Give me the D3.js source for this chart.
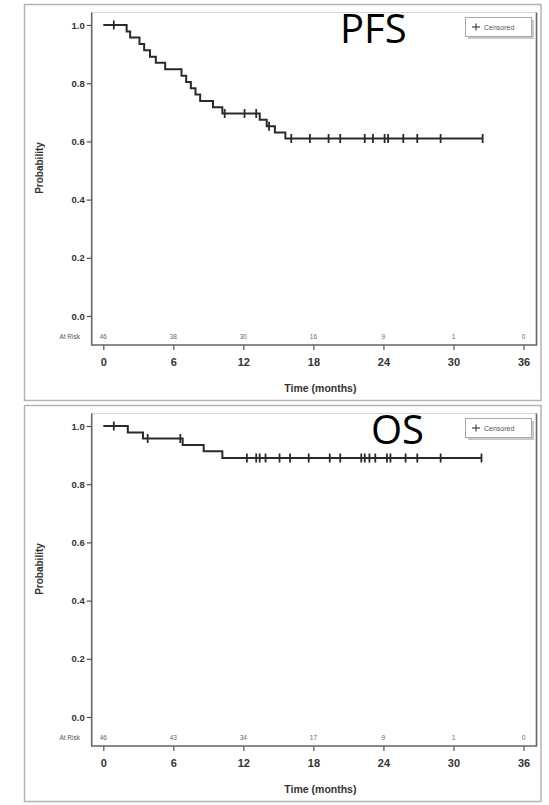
<!DOCTYPE html>
<html>
<head>
<meta charset="utf-8">
<script src="https://cdn.jsdelivr.net/npm/d3@7"></script>
<style>
  html, body { margin: 0; padding: 0; background: #ffffff; }
  svg { display: block; }
</style>
</head>
<body>
<svg id="chart" width="549" height="805"></svg>
<script>
// ---------------- DATA ----------------
const timeTicks = [0, 6, 12, 18, 24, 30, 36];
const probTicks = [0, 0.2, 0.4, 0.6, 0.8, 1.0];

// PFS Kaplan-Meier steps (time in months, survival probability after the step)
const pfsTimes = [0, 2.0, 2.3, 3.1, 3.5, 4.0, 4.5, 5.3, 6.7, 7.1, 7.5, 7.9, 8.3, 9.4, 10.2, 13.4, 14.0, 14.7, 15.6];
const pfsSurv  = [1.0, 0.978, 0.957, 0.935, 0.913, 0.891, 0.870, 0.848, 0.826, 0.804, 0.783, 0.761, 0.739, 0.717, 0.696, 0.674, 0.652, 0.631, 0.610];
const pfsEnd = 32.5;
const pfsCensored = [0.9, 10.4, 12.1, 13.1, 14.2, 16.1, 17.7, 19.3, 20.3, 22.4, 23.1, 24.1, 24.4, 25.7, 26.9, 28.9, 32.5];
const pfsAtRisk = ["46", "38", "30", "16", "9", "1", "0"];

// OS Kaplan-Meier steps
const osTimes = [0, 2.1, 3.4, 6.8, 8.6, 10.2];
const osSurv  = [1.0, 0.978, 0.957, 0.935, 0.913, 0.890];
const osEnd = 32.4;
const osCensored = [0.9, 3.8, 6.6, 12.3, 13.1, 13.4, 13.9, 15.1, 16.0, 17.6, 19.4, 20.3, 22.1, 22.4, 22.8, 23.3, 24.3, 24.6, 25.9, 26.9, 28.9, 32.4];
const osAtRisk = ["46", "43", "34", "17", "9", "1", "0"];

const panelTitles = ["PFS", "OS"];
const legendLabel = "Censored";
const xTitle = "Time (months)";
const yTitle = "Probability";
const atRiskLabel = "At Risk";

// ---------------- DRAW ----------------
const svg = d3.select("#chart");

const panels = [
  { title: panelTitles[0], times: pfsTimes, surv: pfsSurv, end: pfsEnd, cens: pfsCensored, risk: pfsAtRisk, dy: 0, titleX: 340 },
  { title: panelTitles[1], times: osTimes, surv: osSurv, end: osEnd, cens: osCensored, risk: osAtRisk, dy: 401, titleX: 371 }
];

const plotLeft = 91.7, plotRight = 536.5, plotTop = 12.5, plotBottom = 345;

panels.forEach(p => {
  const g = svg.append("g").attr("transform", `translate(0,${p.dy})`);

  // outer panel frame
  g.append("rect")
    .attr("x", 24.5).attr("y", 4.5).attr("width", 516.5).attr("height", 396)
    .attr("fill", "none").attr("stroke", "#b4b4b4").attr("stroke-width", 1.5);

  const x = d3.scaleLinear().domain([0, 36]).range([103.3, 523.5]);
  const y = d3.scaleLinear().domain([0, 1]).range([316, 25]);

  // plot frame
  g.append("line").attr("x1", plotLeft).attr("x2", plotRight).attr("y1", plotTop).attr("y2", plotTop)
    .attr("stroke", "#d6d6d6").attr("stroke-width", 1);
  g.append("path")
    .attr("d", `M${plotLeft},${plotTop}V${plotBottom}H${plotRight}V${plotTop}`)
    .attr("fill", "none").attr("stroke", "#666").attr("stroke-width", 1.6);

  // y axis
  const yAxis = g.append("g").attr("transform", `translate(${plotLeft},0)`)
    .call(d3.axisLeft(y).tickValues(probTicks).tickFormat(d3.format(".1f")).tickSize(5).tickPadding(2));
  yAxis.select(".domain").remove();
  yAxis.selectAll("line").attr("stroke", "#555").attr("stroke-width", 1.2);
  yAxis.selectAll("text").attr("font-family", "Arial, 'Liberation Sans', sans-serif")
    .attr("font-size", 9.5).attr("font-weight", "bold").attr("fill", "#333");

  // x axis
  const xAxis = g.append("g").attr("transform", `translate(0,${plotBottom})`)
    .call(d3.axisBottom(x).tickValues(timeTicks).tickFormat(d3.format("d")).tickSize(5).tickPadding(8));
  xAxis.select(".domain").remove();
  xAxis.selectAll("line").attr("stroke", "#555").attr("stroke-width", 1.2);
  xAxis.selectAll("text").attr("font-family", "Arial, 'Liberation Sans', sans-serif")
    .attr("font-size", 11).attr("font-weight", "bold").attr("fill", "#333");

  // axis titles
  g.append("text")
    .attr("x", 208 + 0).attr("y", 0)
    .attr("transform", `translate(43,168) rotate(-90)`)
    .attr("text-anchor", "middle")
    .attr("font-family", "Arial, 'Liberation Sans', sans-serif")
    .attr("font-size", 10).attr("font-weight", "bold").attr("fill", "#333")
    .attr("x", 0)
    .text(yTitle);
  g.append("text")
    .attr("x", (x(0) + x(36)) / 2 + 7).attr("y", 392)
    .attr("text-anchor", "middle")
    .attr("font-family", "Arial, 'Liberation Sans', sans-serif")
    .attr("font-size", 10.5).attr("font-weight", "bold").attr("fill", "#333")
    .text(xTitle);

  // at risk row
  g.append("text")
    .attr("x", 80).attr("y", 339)
    .attr("text-anchor", "end")
    .attr("font-family", "Arial, 'Liberation Sans', sans-serif")
    .attr("font-size", 6.5).attr("fill", "#555")
    .text(atRiskLabel);
  g.selectAll(".risk").data(timeTicks).enter().append("text")
    .attr("class", "risk")
    .attr("x", d => x(d)).attr("y", 339)
    .attr("text-anchor", "middle")
    .attr("font-family", "Arial, 'Liberation Sans', sans-serif")
    .attr("font-size", 6.5).attr("fill", "#666")
    .text((d, i) => p.risk[i]);

  // KM curve
  const pts = p.times.map((t, i) => [t, p.surv[i]]);
  pts.push([p.end, p.surv[p.surv.length - 1]]);
  const line = d3.line().x(d => x(d[0])).y(d => y(d[1])).curve(d3.curveStepAfter);
  g.append("path").attr("d", line(pts))
    .attr("fill", "none").attr("stroke", "#2a2a2a").attr("stroke-width", 2);

  // censor marks
  const survAt = t => {
    let s = p.surv[0];
    for (let i = 0; i < p.times.length; i++) if (p.times[i] <= t) s = p.surv[i];
    return s;
  };
  g.selectAll(".cens").data(p.cens).enter().append("line")
    .attr("class", "cens")
    .attr("x1", d => x(d)).attr("x2", d => x(d))
    .attr("y1", d => y(survAt(d)) - 4.5).attr("y2", d => y(survAt(d)) + 4.5)
    .attr("stroke", "#2a2a2a").attr("stroke-width", 1.8);

  // legend
  g.append("rect").attr("x", 468).attr("y", 20).attr("width", 66).attr("height", 19)
    .attr("fill", "#c8c8c8");
  g.append("rect").attr("x", 465.5).attr("y", 17.5).attr("width", 66).attr("height", 19)
    .attr("fill", "#fff").attr("stroke", "#a8a8a8").attr("stroke-width", 1);
  g.append("line").attr("x1", 472).attr("x2", 480).attr("y1", 27).attr("y2", 27)
    .attr("stroke", "#444").attr("stroke-width", 1.2);
  g.append("line").attr("x1", 476).attr("x2", 476).attr("y1", 23.5).attr("y2", 30.5)
    .attr("stroke", "#444").attr("stroke-width", 1.2);
  g.append("text").attr("x", 484).attr("y", 29.5)
    .attr("font-family", "Arial, 'Liberation Sans', sans-serif")
    .attr("font-size", 7).attr("fill", "#555")
    .text(legendLabel);

  // big panel title
  g.append("text").attr("x", p.titleX).attr("y", 43)
    .attr("font-family", "'Open Sans', 'Noto Sans', sans-serif")
    .attr("font-size", 40).attr("fill", "#000")
    .text(p.title);
});
</script>
</body>
</html>
